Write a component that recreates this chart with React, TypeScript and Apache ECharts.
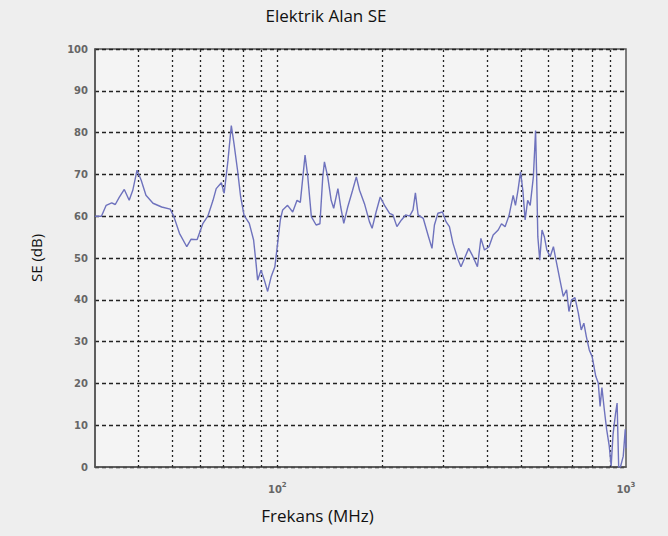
import React, { useEffect, useRef } from "react";
import * as echarts from "echarts";

const titleText = "Elektrik Alan SE";
const xName = "Frekans (MHz)";
const yName = "SE (dB)";

const freq = [
  30, 31.3, 32.3, 33.5, 34.3, 35.2, 36.4, 37.6, 38.5, 39.6, 40.7, 42, 44, 46.6, 49.3, 50.5,
  52.4, 55, 56.6, 58.9, 61.2, 63.2, 65.4, 66.8, 69.1, 70.4, 72.2, 73.8, 75.1, 76.9, 78.5,
  80.3, 83.1, 85.5, 86.9, 87.8, 89.8, 91.8, 93.8, 96, 98.4, 100.2, 102, 103.6, 107, 110.7,
  113.9, 116.4, 120.1, 122.3, 125.2, 129.2, 132.5, 135, 136.5, 139.5, 142.7, 145.1, 149.2,
  152, 155.1, 159.2, 164.4, 168.5, 172.1, 177.8, 183.7, 187, 192, 197.3, 203, 209.9, 214.6,
  220.3, 227, 233.4, 239.6, 245, 248.9, 253.4, 262.1, 271.4, 277.7, 282.2, 288.8, 297.6,
  304.6, 311.6, 319, 330.2, 336.3, 345.8, 353.9, 362.2, 374.9, 383.6, 392.7, 404.6, 415.9,
  430, 439.5, 450, 462, 474.7, 481.9, 490, 498.4, 506, 513.7, 522.4, 531.2, 542.4, 550.4,
  554, 558.6, 565.8, 574.3, 583.2, 593, 606, 619.2, 632.6, 646.6, 660.8, 675.5, 686, 698,
  714, 730, 744, 757, 769.6, 784.6, 799.6, 819, 832.6, 842.8, 853, 866.6, 880, 895.3, 906.6,
  917.9, 933.6, 943, 952.8, 964, 982, 995, 1000,
];
const se = [
  60, 60, 62.6, 63.2, 62.8, 64.5, 66.4, 63.8, 66.2, 71, 68.6, 65, 63.1, 62.2, 61.7, 59.9,
  55.9, 52.7, 54.5, 54.4, 58.3, 60, 63.8, 66.6, 68, 65.5, 73.4, 81.7, 77.4, 71, 64.6,
  60.2, 58.3, 54.3, 48.7, 44.7, 47.1, 44.7, 42, 45.5, 47.9, 53.5, 59.1, 61.5, 62.6, 61,
  63.8, 63.3, 74.6, 69.4, 59.9, 57.9, 58.2, 69.4, 73, 69.4, 63.8, 61.9, 66.6,
  62.2, 58.3, 62.2, 66.2, 69.4, 66.2, 63, 58.7, 57.1, 61, 64.6, 62.6, 60.7, 60.3,
  57.5, 59.1, 60.3, 60, 61.5, 65.6, 60.3, 59.5, 55.1, 52.3, 57.9, 60.7, 61,
  58.7, 57.5, 53.5, 49.5, 47.9, 50.3, 52.3, 50.7, 47.9, 54.7, 51.9, 52.7, 55.5,
  56.7, 58.2, 57.5, 60.2, 65, 62.6, 66.2, 70.6, 66.2, 59.1, 63.8, 62.6, 69.4, 80.5,
  70.6, 55.1, 49.5, 56.7, 55.1, 51.9, 50.3, 52.7, 48.7, 44.7, 40.8, 42.4, 37.2, 40,
  40.5, 36.8, 32.8, 34.4, 31.2, 28, 26.4, 21.7, 20.1, 14.5, 19, 13.7, 9, 5, 0.2,
  7.8, 12.9, 15.3, 0, 0, 2.6, 9, 4.5,
];
const xGridValues = [40, 50, 60, 70, 80, 90, 100, 200, 300, 400, 500, 600, 700, 800, 900];
const yMin = 0;
const yMax = 100;
const yStep = 10;
const xMin = 30;
const xMax = 1000;

export default function App() {
  const ref = useRef<HTMLDivElement>(null);
  useEffect(() => {
    if (!ref.current) return;
    document.body.style.margin = "0";
    const chart = echarts.init(ref.current, undefined, { renderer: "svg" });
    const gridLine = { color: "#222", width: 1.3 };
    chart.setOption({
      animation: false,
      backgroundColor: "#eeeeee",
      title: {
        text: titleText,
        left: 321,
        textAlign: "center",
        top: 2,
        textStyle: { fontFamily: "Open Sans", fontSize: 17, fontWeight: "normal", color: "#111" },
      },
      grid: {
        left: 95,
        right: 42,
        top: 49,
        bottom: 69,
        show: true,
        backgroundColor: "#f4f4f4",
        borderColor: "#555",
        borderWidth: 1.5,
      },
      xAxis: {
        type: "log",
        logBase: 10,
        min: xMin,
        max: xMax,
        name: xName,
        nameLocation: "middle",
        nameGap: 40,
        nameTextStyle: { fontFamily: "Open Sans", fontSize: 17, color: "#111", padding: [0, 86, 0, 0] },
        axisLine: { show: true, lineStyle: { color: "#555", width: 1.5 } },
        axisTick: { show: false },
        splitLine: { show: false },
        axisLabel: {
          margin: 14,
          color: "#666",
          fontFamily: "DejaVu Sans",
          fontSize: 10,
          fontWeight: "bold",
          showMinLabel: true,
          showMaxLabel: true,
          formatter: (v: number) => {
            const l = Math.log10(v);
            const e = Math.round(l);
            return Math.abs(l - e) < 1e-6 ? `10{sup|${e}}` : "";
          },
          rich: {
            sup: { fontSize: 7, fontFamily: "DejaVu Sans", color: "#666", padding: [0, 0, 9, 0] },
          },
        },
      },
      yAxis: {
        type: "value",
        min: yMin,
        max: yMax,
        interval: yStep,
        name: yName,
        nameLocation: "middle",
        nameGap: 52,
        nameTextStyle: { fontFamily: "Open Sans", fontSize: 15, color: "#111" },
        axisLine: { show: true, lineStyle: { color: "#555", width: 1.5 } },
        axisTick: { show: false },
        axisLabel: {
          margin: 7,
          color: "#666",
          fontFamily: "DejaVu Sans",
          fontSize: 10,
          fontWeight: "bold",
        },
        splitLine: { show: true, lineStyle: { ...gridLine, type: [4, 3] } },
      },
      series: [
        {
          type: "line",
          data: freq.map((f, i) => [f, se[i]]),
          showSymbol: false,
          symbol: "none",
          lineStyle: { color: "#6e72bd", width: 1.4 },
          z: 3,
          markLine: {
            silent: true,
            symbol: "none",
            label: { show: false },
            lineStyle: { ...gridLine, type: [2, 3] },
            data: xGridValues.map((v) => ({ xAxis: v })),
            z: 1,
          },
        },
      ],
    });
    return () => chart.dispose();
  }, []);
  return <div ref={ref} style={{ width: 668, height: 536 }} />;
}
